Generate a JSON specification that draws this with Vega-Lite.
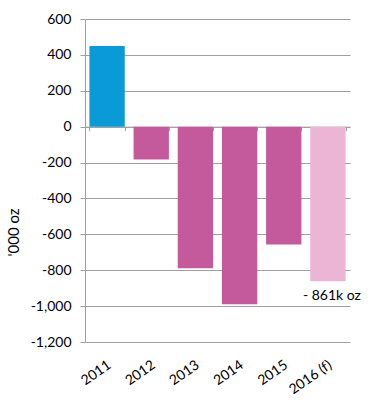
{
  "$schema": "https://vega.github.io/schema/vega-lite/v6.json",
  "width": 265,
  "height": 323,
  "autosize": {"type": "none"},
  "padding": {"left": 85, "top": 19, "right": 34, "bottom": 65},
  "background": "white",
  "data": {
    "values": [
      {"year": "2011", "value": 450, "kind": "surplus", "label": ""},
      {"year": "2012", "value": -183, "kind": "deficit", "label": ""},
      {"year": "2013", "value": -789, "kind": "deficit", "label": ""},
      {"year": "2014", "value": -990, "kind": "deficit", "label": ""},
      {"year": "2015", "value": -656, "kind": "deficit", "label": ""},
      {"year": "2016 (f)", "value": -861, "kind": "forecast", "label": "- 861k oz"}
    ]
  },
  "encoding": {
    "x": {
      "field": "year",
      "type": "nominal",
      "sort": null,
      "scale": {"paddingInner": 0.2, "paddingOuter": 0.1},
      "axis": {
        "title": null,
        "offset": -215.33,
        "domainColor": "#a0a0a0",
        "tickColor": "#a0a0a0",
        "tickSize": 4,
        "tickBand": "extent",
        "labelAngle": -35,
        "labelAlign": "right",
        "labelBaseline": "top",
        "labelPadding": 227,
        "labelOffset": -2,
        "labelFont": "Lato",
        "labelFontSize": 14,
        "labelColor": "#000000",
        "labelOverlap": false,
        "grid": false
      }
    },
    "y": {
      "field": "value",
      "type": "quantitative",
      "scale": {"domain": [-1200, 600], "nice": false, "zero": true},
      "axis": {
        "title": "'000 oz",
        "titleFont": "Lato",
        "titleFontSize": 15,
        "titleFontWeight": "normal",
        "titleColor": "#000000",
        "titleX": -72,
        "titleY": 213,
        "titleAlign": "center",
        "titleBaseline": "middle",
        "titleAngle": -90,
        "values": [-1200, -1000, -800, -600, -400, -200, 0, 200, 400, 600],
        "labelExpr": "replace(format(datum.value, ','), '\u2212', '-')",
        "labelFont": "Lato",
        "labelFontSize": 14,
        "labelColor": "#000000",
        "labelPadding": 9,
        "labelOverlap": false,
        "tickSize": 5,
        "tickColor": "#a0a0a0",
        "domainColor": "#a0a0a0",
        "gridColor": "#a0a0a0",
        "grid": true
      }
    }
  },
  "layer": [
    {
      "mark": {"type": "bar"},
      "encoding": {
        "color": {
          "field": "kind",
          "type": "nominal",
          "scale": {"domain": ["surplus", "deficit", "forecast"], "range": ["#0a9ad8", "#c45a9b", "#ebb5d6"]},
          "legend": null
        }
      }
    },
    {
      "mark": {"type": "text", "baseline": "top", "dy": 8, "font": "Lato", "fontSize": 14, "color": "#000000", "dx": 4},
      "encoding": {
        "text": {"field": "label"}
      }
    }
  ],
  "config": {
    "view": {"stroke": null}
  }
}
